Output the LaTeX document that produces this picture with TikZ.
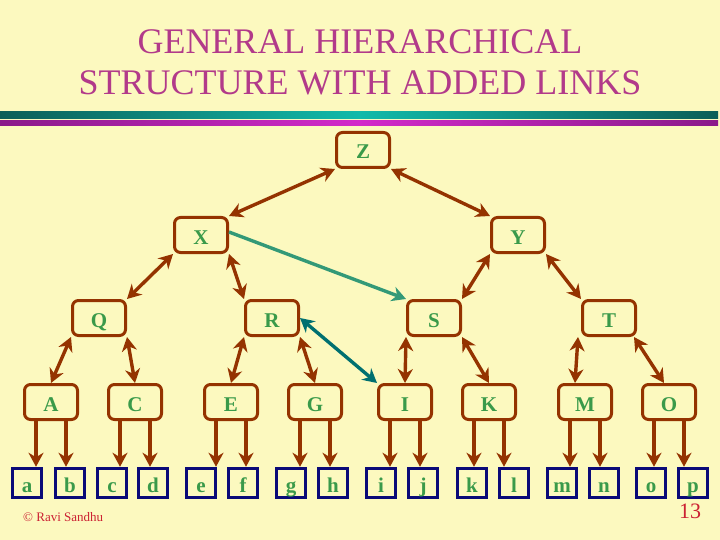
\documentclass[tikz,border=0pt]{standalone}
\usepackage{fontspec}
\setmainfont{Liberation Serif}
\usetikzlibrary{arrows.meta}
\definecolor{rsbg}{HTML}{FCF9BF}
\definecolor{rsbrown}{HTML}{943300}
\definecolor{rsgreen}{HTML}{3A9A4A}
\definecolor{rsnavy}{HTML}{0A0A78}
\definecolor{rstitle}{HTML}{B23A8A}
\definecolor{rslink}{HTML}{339977}
\definecolor{rsteal}{HTML}{007070}
\definecolor{rsred}{HTML}{CC2233}
\definecolor{rsbarA}{HTML}{0C5E58}
\definecolor{rsbarB}{HTML}{12BAAA}
\definecolor{rsbarC}{HTML}{8A1A8A}
\definecolor{rsbarD}{HTML}{D22ACA}

\begin{document}
\begin{tikzpicture}[x=1pt, y=-1pt,
          lvl/.style={draw=rsbrown, line width=3pt, rounded corners=6pt, minimum width=53pt, minimum height=35pt, inner sep=0pt,
                      text height=19pt, text depth=1pt, font=\fontsize{21}{21}\selectfont\bfseries, text=rsgreen},
          leaf/.style={lvl, draw=rsnavy, rounded corners=0pt, minimum width=28.5pt, minimum height=29.5pt},
          both/.style={rsbrown, line width=3.4pt, {Stealth[length=14pt, width=15pt, inset=4.5pt]}-{Stealth[length=14pt, width=15pt, inset=4.5pt]}},
          down/.style={rsbrown, line width=3.4pt, -{Stealth[length=14pt, width=15pt, inset=4.5pt]}},
          ttl/.style={anchor=base, font=\fontsize{36}{36}\selectfont, text=rstitle}]
          \useasboundingbox (0,0) rectangle (720,540);
          \fill[rsbg] (0,0) rectangle (720,540);
          % title and bars
          \node[ttl] (t1) at (360,54) {GENERAL HIERARCHICAL};
          \node[ttl] (t2) at (360,95) {STRUCTURE WITH ADDED LINKS};
          \shade[left color=rsbarA, right color=rsbarA, middle color=rsbarB] (0,112) rectangle (718,119);
          \shade[left color=rsbarC, right color=rsbarC, middle color=rsbarD] (0,121) rectangle (718,125.5);
          % tree
          \node[lvl] (Z) at (363,150) {Z};
          \node[lvl] (X) at (201,235) {X};
          \node[lvl] (Y) at (518,235) {Y};
          \node[lvl] (Q) at (99,318) {Q};
          \node[lvl] (R) at (272,318) {R};
          \node[lvl] (S) at (434,318) {S};
          \node[lvl] (T) at (609,318) {T};
          \draw[both] (Z.south west)--(X.north east); \draw[both] (Z.south east)--(Y.north west);
          \draw[both] (X.south west)--(Q.north east); \draw[both] (X.south east)--(R.north west);
          \draw[both] (Y.south west)--(S.north east); \draw[both] (Y.south east)--(T.north west);
          \foreach \n/\x in {A/51, C/135, E/231, G/315, I/405, K/489, M/585, O/669}
            \node[lvl] (\n) at (\x,402) {\n};
          \draw[both] (Q.south west)--(A.north); \draw[both] (Q.south east)--(C.north);
          \draw[both] (R.south west)--(E.north); \draw[both] (R.south east)--(G.north);
          \draw[both] (S.south west)--(I.north); \draw[both] (S.south east)--(K.north);
          \draw[both] ([xshift=-3pt]T.south west)--([xshift=-10pt]M.north); \draw[both] ([xshift=-3pt]T.south east)--([xshift=-5pt]O.north);
          % leaves
          \foreach \l/\x in {a/27, b/70, c/112, d/153, e/201, f/243, g/291, h/333, i/381, j/423, k/472, l/514, m/562, n/604, o/651, p/693}
            \node[leaf] (\l) at (\x,483) {\l};
          \foreach \n/\l/\r in {A/a/b, C/c/d, E/e/f, G/g/h, I/i/j, K/k/l, M/m/n, O/o/p} {
            \draw[down] ([xshift=-15pt]\n.south) -- ([xshift=-15pt]\n.south |- \l.north);
            \draw[down] ([xshift=15pt]\n.south) -- ([xshift=15pt]\n.south |- \r.north);
          }
          % added links
          \draw[rslink, line width=3.4pt, -{Stealth[length=14pt, width=15pt, inset=4.5pt]}] ([yshift=3pt]X.east)--(S.north west);
          \draw[rsteal, line width=3.4pt, {Stealth[length=14pt, width=15pt, inset=4.5pt]}-{Stealth[length=14pt, width=15pt, inset=4.5pt]}] (R.east)--(I.north west);
          % footer
          \node[anchor=base west, font=\fontsize{13}{13}\selectfont, text=rsred, inner sep=0pt] (cpr) at (23,521) {© Ravi Sandhu};
          \node[anchor=base, font=\fontsize{22}{22}\selectfont, text=rsred, inner sep=0pt] (pg) at (690,518) {13};
        \end{tikzpicture}
\end{document}
